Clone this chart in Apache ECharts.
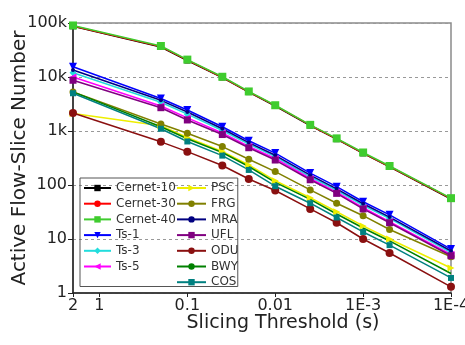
<!DOCTYPE html>
<html>
<head>
<meta charset="utf-8">
<script src="https://cdn.jsdelivr.net/npm/echarts@6/dist/echarts.min.js"></script>
<style>
  html, body { margin: 0; padding: 0; background: #fff; }
  #chart { width: 465px; height: 345px; }
</style>
</head>
<body>
<div id="chart"></div>
<script>
// slicing thresholds (s), shared by every trace
var thresholds = [2, 0.2, 0.1, 0.04, 0.02, 0.01, 0.004, 0.002, 0.001, 0.0005, 0.0001];

var cernet10 = [87000, 36000, 20200, 9800, 5250, 2900, 1260, 705, 385, 217, 55];
var cernet30 = [88000, 36500, 20500, 9900, 5300, 2950, 1280, 715, 390, 220, 56];
var cernet40 = [90000, 37500, 21000, 10100, 5400, 3000, 1300, 730, 400, 225, 57];
var ts1 = [15500, 4000, 2450, 1200, 660, 390, 166, 93, 49, 28, 6.5];
var ts3 = [12000, 3400, 2050, 1020, 570, 335, 142, 80, 42, 24, 5.6];
var ts5 = [10000, 2900, 1750, 920, 520, 310, 132, 74, 38, 21, 5.2];
var psc = [2100, 1250, 760, 420, 235, 120, 58, 32, 17.5, 10, 2.9];
var frg = [5300, 1350, 910, 515, 300, 177, 81, 46, 27, 15, 4.7];
var mra = [13500, 3700, 2250, 1100, 610, 355, 152, 85, 45, 25.5, 6.0];
var ufl = [8700, 2700, 1600, 860, 490, 290, 125, 70, 36, 20, 4.9];
var odu = [2150, 630, 415, 230, 129, 79, 36, 20, 10, 5.5, 1.3];
var bwy = [5300, 1200, 720, 400, 220, 112, 54, 29, 16, 9.2, 2.3];
var cos = [5000, 1100, 640, 350, 190, 95, 46, 25, 13.5, 7.7, 1.9];

var xTickLabels = ['2', '1', '0.1', '0.01', '1E-3', '1E-4'];
var yTickLabels = ['1', '10', '100', '1k', '10k', '100k'];

var leftNames = ['Cernet-10', 'Cernet-30', 'Cernet-40', 'Ts-1', 'Ts-3', 'Ts-5'];
var rightNames = ['PSC', 'FRG', 'MRA', 'UFL', 'ODU', 'BWY', 'COS'];

function mkSeries(name, vals, color, symbol, size) {
	return {
		name: name,
		type: 'line',
		data: thresholds.map(function (t, i) { return [t, vals[i]]; }),
		symbol: symbol,
		symbolSize: size || 7,
		showSymbol: symbol !== 'none',
		lineStyle: { color: color, width: 1.5 },
		itemStyle: { color: color },
		emphasis: { disabled: true }
	};
}

var series = [
	mkSeries('Cernet-10', cernet10, '#000000', 'rect', 6),
	mkSeries('Cernet-30', cernet30, '#ff0000', 'circle', 6),
	mkSeries('Cernet-40', cernet40, '#3fcc2e', 'rect', 8),
	mkSeries('Ts-1', ts1, '#0000ff', 'path://M0,0 L10,0 L5,9 Z', 8),
	mkSeries('Ts-3', ts3, '#22dddd', 'diamond', 7),
	mkSeries('Ts-5', ts5, '#ff00ff', 'path://M0,5 L9,0 L9,10 Z', 7),
	mkSeries('PSC', psc, '#eeee00', 'path://M0,0 L9,5 L0,10 Z', 7),
	mkSeries('FRG', frg, '#808000', 'circle', 7),
	mkSeries('MRA', mra, '#000080', 'circle', 4),
	mkSeries('UFL', ufl, '#800080', 'rect', 7),
	mkSeries('ODU', odu, '#8a1010', 'circle', 8),
	mkSeries('BWY', bwy, '#008000', 'none'),
	mkSeries('COS', cos, '#008080', 'path://M0,4 L10,4 L10,6 L0,6 Z', 6)
];

function fmtX(v) {
	if (v >= 1) return String(Math.round(v));
	if (v >= 0.01) return String(+v.toPrecision(1));
	return '1E' + Math.round(Math.log10(v));
}
function fmtY(v) {
	var e = Math.round(Math.log10(v));
	return yTickLabels[e] || String(v);
}

var chart = echarts.init(document.getElementById('chart'), null, { renderer: 'canvas' });
chart.setOption({
	animation: false,
	backgroundColor: '#ffffff',
	textStyle: { fontFamily: 'DejaVu Sans' },
	grid: {
		left: 73, right: 14, top: 23, bottom: 52,
		outerBoundsMode: 'none',
		containLabel: false,
		show: true, borderColor: '#8a8a8a', borderWidth: 1.5, backgroundColor: 'transparent'
	},
	legend: [{
		data: leftNames,
		orient: 'vertical',
		left: 80, top: 178,
		padding: [4, 62, 14, 3],
		itemWidth: 27, itemHeight: 8, itemGap: 3.7,
		borderColor: '#555', borderWidth: 1,
		textStyle: { fontSize: 12, color: '#333', fontFamily: 'DejaVu Sans' },
		selectedMode: false, z: 3
	}, {
		data: rightNames,
		orient: 'vertical',
		left: 176, top: 182,
		padding: 0,
		itemWidth: 29, itemHeight: 8, itemGap: 3.7,
		textStyle: { fontSize: 12, color: '#333', fontFamily: 'DejaVu Sans' },
		selectedMode: false, z: 5
	}],
	xAxis: {
		type: 'log',
		inverse: true,
		min: 0.0001,
		max: 2,
		name: 'Slicing Threshold (s)',
		nameLocation: 'middle',
		nameGap: 21,
		nameMoveOverlap: false,
		nameTextStyle: { fontSize: 19, color: '#222', padding: [0, 0, 0, 42], verticalAlign: 'top' },
		axisLine: { show: true, lineStyle: { color: '#222', width: 1.5 } },
		axisTick: { show: true, inside: false, length: 4, lineStyle: { color: '#222' } },
		axisLabel: { fontSize: 16, color: '#222', margin: 5, showMaxLabel: true, showMinLabel: true, formatter: fmtX },
		splitLine: { show: false }
	},
	yAxis: {
		type: 'log',
		min: 1,
		max: 100000,
		name: 'Active Flow-Slice Number',
		nameLocation: 'middle',
		nameGap: 43,
		nameMoveOverlap: false,
		nameTextStyle: { fontSize: 20, color: '#222' },
		axisLine: { show: true, lineStyle: { color: '#222', width: 1.5 } },
		axisTick: { show: true, inside: false, length: 5, lineStyle: { color: '#222' } },
		axisLabel: { fontSize: 16, color: '#222', margin: 6, formatter: fmtY },
		splitLine: { show: true, lineStyle: { color: '#999', type: [3, 3], width: 1 } }
	},
	series: series
});
</script>
</body>
</html>
